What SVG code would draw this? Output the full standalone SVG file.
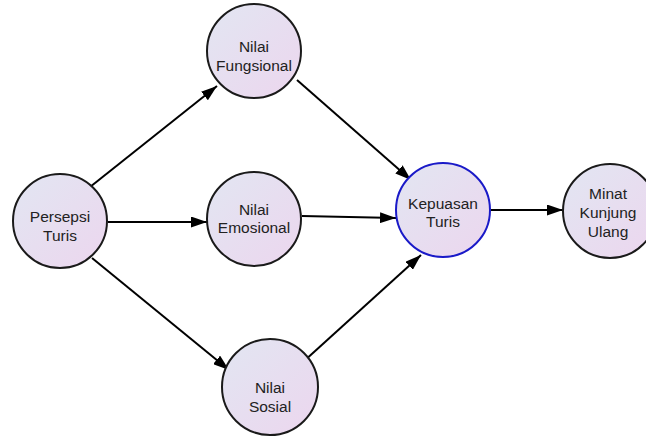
<svg xmlns="http://www.w3.org/2000/svg" width="646" height="441" viewBox="0 0 646 441">
<defs>
<linearGradient id="g" x1="0" y1="0" x2="1" y2="1">
<stop offset="0" stop-color="#e2e6f2"/>
<stop offset="1" stop-color="#ecd6ee"/>
</linearGradient>
<marker id="arr" viewBox="0 0 16 11" refX="16" refY="5.5" markerWidth="16" markerHeight="11" markerUnits="userSpaceOnUse" orient="auto">
<path d="M0,0 L16,5.5 L0,11 Z" fill="#000"/>
</marker>
<style>
.n{fill:url(#g);stroke:#1a1a1a;stroke-width:2}
.b{stroke:#1a1ac8}
.t{font-family:"Liberation Sans",Arial,sans-serif;font-size:15.5px;fill:#222;text-anchor:middle;dominant-baseline:central}
.e{stroke:#000;stroke-width:2;fill:none;marker-end:url(#arr)}
</style>
</defs>
<rect width="646" height="441" fill="#fff"/>
<g id="connectors">
<line class="e" x1="90" y1="187" x2="217" y2="86"/>
<line class="e" x1="108" y1="222" x2="207" y2="222"/>
<line class="e" x1="92" y1="258" x2="229" y2="370"/>
<line class="e" x1="297" y1="80" x2="411" y2="180"/>
<line class="e" x1="302" y1="216" x2="396" y2="218"/>
<line class="e" x1="303" y1="362" x2="421" y2="255"/>
<line class="e" x1="490" y1="210" x2="563" y2="210"/>
</g>
<g id="persepsi">
<circle class="n" cx="60" cy="221" r="47"/>
<text class="t" x="60" y="216">Persepsi</text>
<text class="t" x="60" y="235">Turis</text>
</g>
<g id="fungsional">
<circle class="n" cx="254" cy="51" r="47"/>
<text class="t" x="254" y="46">Nilai</text>
<text class="t" x="254" y="65">Fungsional</text>
</g>
<g id="emosional">
<circle class="n" cx="254" cy="219" r="47"/>
<text class="t" x="254" y="209">Nilai</text>
<text class="t" x="254" y="227">Emosional</text>
</g>
<g id="sosial">
<circle class="n" cx="270" cy="387" r="48"/>
<text class="t" x="270" y="387">Nilai</text>
<text class="t" x="270" y="406">Sosial</text>
</g>
<g id="kepuasan">
<circle class="n b" cx="443" cy="210" r="47"/>
<text class="t" x="443" y="203">Kepuasan</text>
<text class="t" x="443" y="221">Turis</text>
</g>
<g id="minat">
<circle class="n" cx="610" cy="211" r="47"/>
<text class="t" x="608" y="193">Minat</text>
<text class="t" x="608" y="212">Kunjung</text>
<text class="t" x="608" y="231">Ulang</text>
</g>
</svg>
